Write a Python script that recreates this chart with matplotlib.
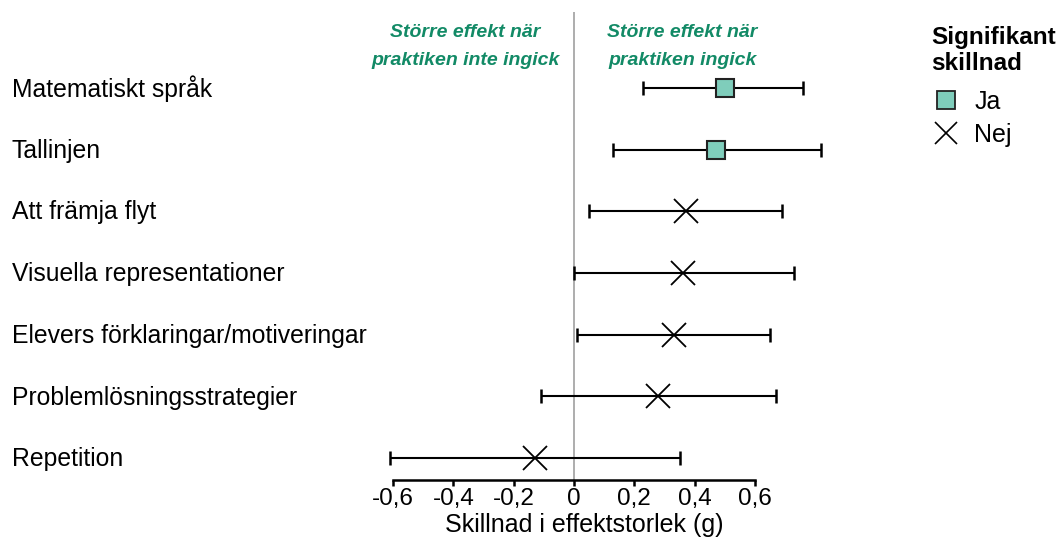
import matplotlib.pyplot as plt
from matplotlib.lines import Line2D

plt.rcParams["font.family"] = ["Liberation Sans", "DejaVu Sans"]

# data
labels = [
    "Matematiskt språk",
    "Tallinjen",
    "Att främja flyt",
    "Visuella representationer",
    "Elevers förklaringar/motiveringar",
    "Problemlösningsstrategier",
    "Repetition",
]
effect = [0.50, 0.47, 0.37, 0.36, 0.33, 0.28, -0.13]
ci_low = [0.23, 0.13, 0.05, 0.00, 0.01, -0.11, -0.61]
ci_high = [0.76, 0.82, 0.69, 0.73, 0.65, 0.67, 0.35]
significant = [True, True, False, False, False, False, False]
xticks = [-0.6, -0.4, -0.2, 0, 0.2, 0.4, 0.6]
xticklabels = ["-0,6", "-0,4", "-0,2", "0", "0,2", "0,4", "0,6"]

green = "#128a66"
fill = "#7fcdbb"

fig = plt.figure(figsize=(10.61, 5.39), dpi=100)
ax = fig.add_axes([0.3562, 0.1095, 0.4265, 0.868])

ax.axvline(0, color="#a0a0a0", lw=1.2, zorder=0)

for i, (e, lo, hi, sig) in enumerate(zip(effect, ci_low, ci_high, significant)):
    ax.errorbar(e, i, xerr=[[e - lo], [hi - e]], fmt="none", ecolor="black",
                elinewidth=1.5, capsize=5, capthick=1.8, zorder=2)
    if sig:
        ax.plot(e, i, marker="s", ms=13, mfc=fill, mec="#222222", mew=1.5, zorder=3)
    else:
        ax.plot(e, i, marker="x", ms=17, mec="black", mew=1.3, zorder=3)

ax.set_xlim(-0.65, 0.85)
ax.set_ylim(6.357, -1.23)
ax.set_yticks(range(len(labels)))
ax.set_yticklabels([])
for i, lab in enumerate(labels):
    fig.text(12 / 1061, 1 - (89 + i * 61.7) / 539, lab, fontsize=17.8,
             ha="left", va="center")
ax.tick_params(axis="y", length=0)

for s in ["left", "right", "top"]:
    ax.spines[s].set_visible(False)
ax.spines["bottom"].set_bounds(-0.6, 0.6)
ax.spines["bottom"].set_linewidth(1.8)
ax.set_xticks(xticks)
ax.set_xticklabels(xticklabels, fontsize=17.5)
ax.tick_params(axis="x", length=4, width=1.8, pad=2)
ax.set_xlabel("Skillnad i effektstorlek (g)", fontsize=18)
ax.xaxis.set_label_coords((0.035 + 0.65) / 1.5, -0.07)

ax.text(-0.36, -1.04, "Större effekt när\npraktiken inte ingick", color=green,
        fontsize=14, fontweight="bold", fontstyle="italic", ha="center",
        va="top", linespacing=1.85)
ax.text(0.36, -1.04, "Större effekt när\npraktiken ingick", color=green,
        fontsize=14, fontweight="bold", fontstyle="italic", ha="center",
        va="top", linespacing=1.85)

# legend title drawn separately to get the wider gap above the entries
fig.text(931 / 1061, 1 - 26 / 539, "Signifikant\nskillnad", fontsize=17.5,
         fontweight="bold", ha="left", va="top", linespacing=1.15)
handles = [
    Line2D([], [], ls="none", marker="s", ms=13, mfc=fill, mec="#222222", mew=1.3),
    Line2D([], [], ls="none", marker="x", ms=16, mec="black", mew=1.2),
]
leg = fig.legend(handles, ["Ja", "Nej"], loc="upper left",
                 bbox_to_anchor=(927 / 1061, 1 - 85 / 539),
                 frameon=False, fontsize=18, handlelength=1.1,
                 handletextpad=0.6, labelspacing=0.36, borderpad=0.2,
                 borderaxespad=0)

fig.savefig("out.png", dpi=100)
